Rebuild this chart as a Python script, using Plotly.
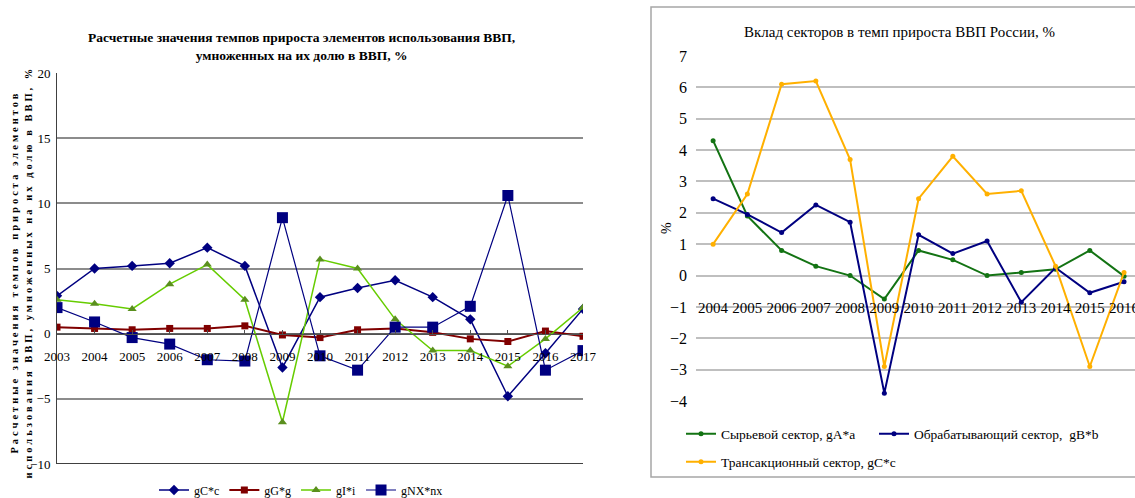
import plotly.graph_objects as go

###############################################################################
# Data
###############################################################################
years_l = ['2003', '2004', '2005', '2006', '2007', '2008', '2009', '2010',
           '2011', '2012', '2013', '2014', '2015', '2016', '2017']
gCc = [2.9, 5.0, 5.2, 5.4, 6.6, 5.2, -2.6, 2.8, 3.5, 4.1, 2.8, 1.1, -4.8, -1.5, 1.9]
gGg = [0.5, 0.4, 0.3, 0.4, 0.4, 0.6, -0.1, -0.3, 0.3, 0.4, 0.1, -0.4, -0.6, 0.2, -0.2]
gIi = [2.6, 2.3, 1.9, 3.8, 5.3, 2.6, -6.8, 5.7, 5.0, 1.1, -1.3, -1.3, -2.5, -0.4, 2.0]
gNXnx = [2.0, 0.9, -0.3, -0.8, -2.0, -2.1, 8.9, -1.7, -2.8, 0.5, 0.5, 2.1, 10.6, -2.8, -1.3]

years_r = ['2004', '2005', '2006', '2007', '2008', '2009', '2010',
           '2011', '2012', '2013', '2014', '2015', '2016']
sec_A = [4.3, 1.9, 0.8, 0.3, 0.0, -0.75, 0.8, 0.5, 0.0, 0.1, 0.2, 0.8, -0.02]
sec_B = [2.45, 1.95, 1.37, 2.25, 1.7, -3.75, 1.3, 0.7, 1.1, -0.85, 0.25, -0.55, -0.2]
sec_C = [1.0, 2.6, 6.1, 6.2, 3.7, -2.9, 2.45, 3.8, 2.6, 2.7, 0.3, -2.9, 0.1]

W, H = 1135, 498
FONT = 'Liberation Serif'
NAVY, MAROON = '#000080', '#800000'

###############################################################################
# Left chart
###############################################################################
fig = go.Figure()
left = [
    ('gC*c', gCc, NAVY, NAVY, 'diamond', 8, 1.5),
    ('gG*g', gGg, MAROON, MAROON, 'square', 7, 2),
    ('gI*i', gIi, '#66CC00', '#5A8F1E', 'triangle-up', 8, 1.5),
    ('gNX*nx', gNXnx, NAVY, NAVY, 'square', 11, 1.2),
]
for (nm, vals, lc, mc, sym, ms, lw) in left:
    fig.add_trace(go.Scatter(
        x=years_l, y=vals, name=nm, mode='lines+markers',
        line=dict(color=lc, width=lw),
        marker=dict(symbol=sym, size=ms, color=mc),
        xaxis='x', yaxis='y', legend='legend'
    ))

###############################################################################
# Right chart (one legend box per entry, Excel-like placement)
###############################################################################
right = [
    ('Сырьевой сектор, gA*a', sec_A, '#137313', 'legend2'),
    ('Обрабатывающий сектор,  gB*b', sec_B, NAVY, 'legend3'),
    ('Трансакционный сектор, gC*c', sec_C, '#FFB000', 'legend4'),
]
for (nm, vals, c, lg) in right:
    fig.add_trace(go.Scatter(
        x=years_r, y=vals, name=nm, mode='lines+markers',
        line=dict(color=c, width=2),
        marker=dict(symbol='circle', size=5, color=c),
        xaxis='x2', yaxis='y2', legend=lg
    ))

# plot areas (pixel -> paper)
lx = [57 / W, 583 / W]
ly = [1 - 464 / H, 1 - 73 / H]
rx = [696 / W, 1.0]
ry = [1 - 401 / H, 1 - 56 / H]


def leg(x, y, size):
    return dict(orientation='h', x=x / W, xanchor='left', y=1 - y / H,
                yanchor='middle', font=dict(size=size), itemwidth=30,
                bgcolor='rgba(0,0,0,0)')


fig.update_layout(
    width=W, height=H,
    margin=dict(l=0, r=0, t=0, b=0, autoexpand=False),
    paper_bgcolor='white', plot_bgcolor='white',
    font=dict(family=FONT, color='black'),
    xaxis=dict(
        domain=lx, type='category', range=[0, 14],
        anchor='free', position=ly[0] + (ly[1] - ly[0]) / 3,
        showgrid=False, showline=True, linecolor='#505050', linewidth=1,
        ticks='inside', ticklen=4, tickcolor='#505050', tickangle=0,
        tickfont=dict(size=13), ticklabelstandoff=11,
    ),
    yaxis=dict(
        domain=ly, range=[-10, 20], dtick=5, anchor='x',
        showgrid=True, gridcolor='#8C8C8C', gridwidth=1.5,
        zeroline=True, zerolinecolor='#606060', zerolinewidth=1.5,
        showline=True, linecolor='#404040', linewidth=1,
        tickfont=dict(size=13), ticklabelstandoff=3,
    ),
    xaxis2=dict(
        domain=rx, type='category', range=[-0.5, 12.32],
        anchor='free', position=ry[0] + (ry[1] - ry[0]) * 4 / 11,
        showgrid=False, showline=False, ticks='', tickangle=0,
        tickfont=dict(size=15), ticklabelstandoff=21,
    ),
    yaxis2=dict(
        domain=ry, range=[-4, 7], dtick=1, anchor='x2',
        showgrid=True, gridcolor='#BFBFBF', gridwidth=1.5,
        zeroline=True, zerolinecolor='#BFBFBF', zerolinewidth=1.5,
        showline=False, tickfont=dict(size=16), ticklabelstandoff=8,
    ),
    legend=dict(
        orientation='h', x=301 / W, xanchor='center', y=1 - 490 / H,
        yanchor='middle', font=dict(size=12), itemwidth=30,
        bgcolor='rgba(0,0,0,0)',
    ),
    legend2=leg(681, 434, 13.5),
    legend3=leg(874, 434, 13.5),
    legend4=leg(681, 462, 13.5),
    annotations=[
        dict(text='<b>Расчетные значения темпов прироста элементов использования ВВП,'
                  '<br>умноженных на их долю в ВВП, %</b>',
             x=301 / W, y=1 - 46 / H, xref='paper', yref='paper',
             xanchor='center', yanchor='middle', showarrow=False,
             font=dict(size=13.5)),
        dict(text='Вклад секторов в темп прироста ВВП России, %',
             x=900 / W, y=1 - 32 / H, xref='paper', yref='paper',
             xanchor='center', yanchor='middle', showarrow=False,
             font=dict(size=15)),
        # left y-axis title (letter-spaced below)
        dict(text='<b>Расчетные значения темпов прироста элементов<br>'
                  'использования ВВП, умноженных на их долю в ВВП, %</b>',
             x=21 / W, y=1 - 272 / H, xref='paper', yref='paper',
             xanchor='center', yanchor='middle', showarrow=False,
             textangle=-90, font=dict(size=10.5)),
        # right y-axis title
        dict(text='%', x=667 / W, y=1 - 228 / H, xref='paper', yref='paper',
             xanchor='center', yanchor='middle', showarrow=False,
             textangle=-90, font=dict(size=14)),
    ],
    shapes=[
        # bottom axis line of the left chart
        dict(type='line', xref='x domain', yref='y', x0=0, x1=1, y0=-10, y1=-10,
             line=dict(color='black', width=1.5)),
        # frame of the right chart
        dict(type='rect', xref='paper', yref='paper',
             x0=651 / W, x1=1.01, y0=1 - 477 / H, y1=1 - 7 / H,
             line=dict(color='#A6A6A6', width=1.5)),
    ],
)

post = (
    "document.body.style.margin='0';"
    "var t=document.querySelector('.annotation[data-index=\"2\"] text');"
    "if(t){t.style.letterSpacing='3px';}"
)
fig.write_html("out.html", post_script=post, config={'displayModeBar': False})
